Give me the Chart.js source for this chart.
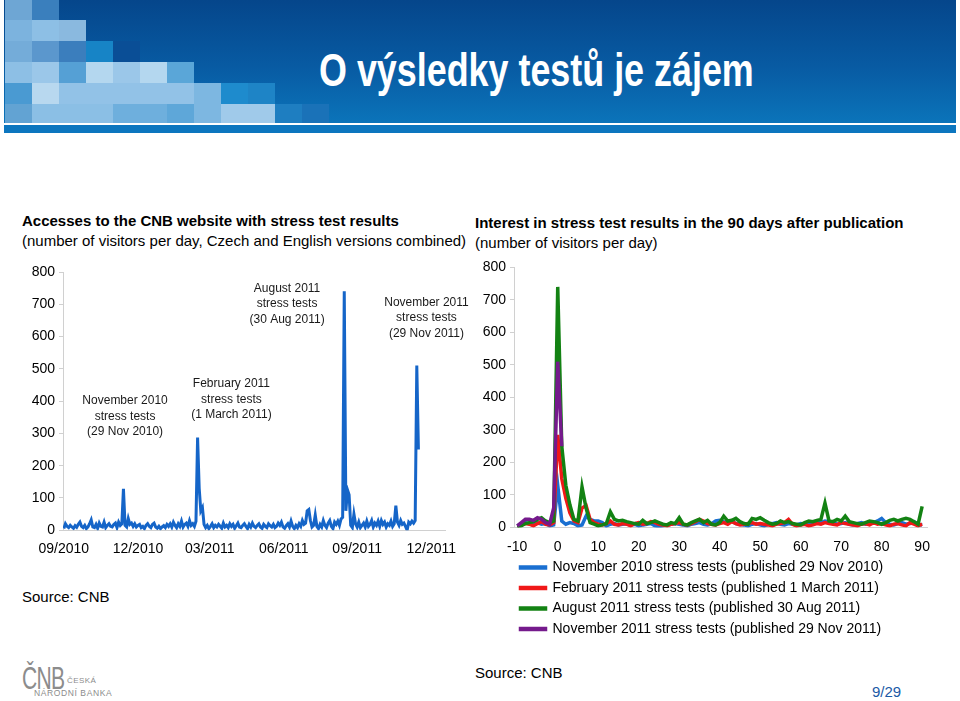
<!DOCTYPE html>
<html>
<head>
<meta charset="utf-8">
<script src="https://cdn.jsdelivr.net/npm/chart.js@4.4.1/dist/chart.umd.min.js"></script>
<style>
  body { margin: 0; width: 960px; height: 701px; position: relative; background: #fff; overflow: hidden;
         font-family: "Liberation Sans", Arial, sans-serif; color: #000; }
  #header { position: absolute; left: 4px; top: 0; width: 952px; height: 123px;
            background: linear-gradient(180deg, #05468b 0%, #085ba3 55%, #0b74ba 100%); }
  #stripe { position: absolute; left: 4px; top: 125px; width: 952px; height: 8px; background: #0c76bf; }
  .tile { position: absolute; width: 27px; }
  #title { position: absolute; left: 319px; top: 43px; color: #fff; white-space: nowrap; line-height: 1;
           font: bold 46px "Liberation Sans", Arial, sans-serif; transform: scaleX(0.78); transform-origin: 0 0; }
  .txt { position: absolute; white-space: nowrap; }
  .bold { font-weight: bold; font-size: 15px; }
  .reg { font-size: 15px; }
  canvas { position: absolute; }
  #logo { position: absolute; left: 22px; top: 660px; color: #8c8c8c; white-space: nowrap; }
  #logo span { position: absolute; white-space: nowrap; line-height: 1; }
</style>
</head>
<body>
<div id="header"></div>
<div id="stripe"></div>
<div id="tiles"></div>
<div id="title">O výsledky testů je zájem</div>

<div class="txt bold" style="left:22px;top:212px">Accesses to the CNB website with stress test results</div>
<div class="txt reg" style="left:22px;top:232px">(number of visitors per day, Czech and English versions combined)</div>
<div class="txt bold" style="left:475px;top:214px">Interest in stress test results in the 90 days after publication</div>
<div class="txt reg" style="left:475px;top:234px">(number of visitors per day)</div>

<canvas id="left" width="470" height="314" style="left:0;top:255px"></canvas>
<canvas id="right" width="490" height="391" style="left:470px;top:255px"></canvas>

<div class="txt reg" style="left:22px;top:588px">Source: CNB</div>
<div class="txt reg" style="left:475px;top:664px">Source: CNB</div>
<div class="txt reg" style="left:872px;top:683px;color:#1a5aa6">9/29</div>

<div id="logo">
  <span style="left:0;top:3px;font-size:31px;transform:scaleX(0.68);transform-origin:0 0;letter-spacing:-1px">ČNB</span>
  <span style="left:45px;top:17px;font-size:8px;letter-spacing:0.4px">ČESKÁ</span>
  <span style="left:12px;top:29px;font-size:8.5px;letter-spacing:0.6px">NÁRODNÍ BANKA</span>
</div>

<script>
// header mosaic colours, one list per row
const tileRows = [
  ['#6ea6d4', '#3a7fbd'],
  ['#7cb3de', '#8dbfe5', '#8ab9df'],
  ['#74acd9', '#5b97cd', '#3b7ebd', '#1784c6', '#0a4e96'],
  ['#8dbfe5', '#9bc7e9', '#55a0d5', '#b4d7ef', '#9bc7e9', '#b4d7ef', '#5aa6d8'],
  ['#4a9ad2', '#b8d8ef', '#92c2e7', '#92c2e7', '#92c2e7', '#92c2e7', '#92c2e7', '#7db7e1', '#1e8bcd', '#1e84c6'],
  ['#62a3d3', '#8bbfe5', '#8bbfe5', '#8bbfe5', '#6eafdd', '#6eafdd', '#5ea7d9', '#7db7e1', '#a0caea', '#a0caea', '#1e7ec1', '#1a72b8']
];
const tileTops = [0, 20, 41, 62, 83, 104];
const tileHeights = [20, 21, 21, 21, 21, 19];
const tilesDiv = document.getElementById('tiles');
tileRows.forEach((row, r) => {
  row.forEach((c, k) => {
    const d = document.createElement('div');
    d.className = 'tile';
    d.style.left = (5 + k * 27) + 'px';
    d.style.top = tileTops[r] + 'px';
    d.style.height = tileHeights[r] + 'px';
    d.style.background = c;
    tilesDiv.appendChild(d);
  });
});

// ---- left chart: daily visitors, one value every 2 days from late Aug 2010 ----
const visitors = [
  5, 20, 12, 8, 15, 10, 6, 14, 9, 18,
  25, 12, 8, 15, 5, 10, 20, 32, 10, 8,
  18, 6, 22, 12, 10, 25, 8, 15, 20, 12,
  10, 18, 22, 8, 25, 15, 20, 128, 15, 10,
  36, 18, 22, 12, 20, 10, 15, 18, 8, 12,
  5, 15, 20, 12, 8, 18, 22, 10, 6, 12,
  5, 10, 14, 8, 18, 12, 20, 10, 25, 15,
  8, 20, 12, 28, 10, 18, 22, 12, 30, 15,
  20, 12, 28, 287, 130, 60, 70, 18, 8, 15,
  5, 12, 20, 8, 15, 10, 18, 12, 6, 22,
  10, 15, 8, 20, 12, 18, 6, 14, 22, 10,
  8, 15, 20, 12, 5, 18, 10, 22, 12, 8,
  15, 20, 10, 6, 18, 12, 8, 20, 14, 10,
  18, 8, 12, 22, 15, 25, 10, 6, 14, 20,
  10, 28, 12, 5, 15, 8, 20, 12, 30, 18,
  22, 60, 64, 30, 10, 15, 47, 12, 5, 18,
  10, 30, 15, 8, 22, 30, 12, 5, 25, 18,
  28, 15, 35, 40, 740, 60, 125, 110, 15, 8,
  50, 20, 10, 25, 8, 15, 22, 10, 28, 12,
  18, 30, 10, 22, 15, 28, 12, 30, 18, 25,
  10, 20, 15, 28, 12, 20, 76, 25, 15, 30,
  18, 22, 12, 0, 25, 20, 28, 22, 30, 510,
  250
];
const leftTickDays = [0, 92, 181, 273, 364, 456];
const leftTickLabels = ['09/2010', '12/2010', '03/2011', '06/2011', '09/2011', '12/2011'];
const yTicks = [0, 100, 200, 300, 400, 500, 600, 700, 800];

const noteLines = [
  ['November 2010', 'stress tests', '(29 Nov 2010)'],
  ['February 2011', 'stress tests', '(1 March 2011)'],
  ['August 2011', 'stress tests', '(30 Aug 2011)'],
  ['November 2011', 'stress tests', '(29 Nov 2011)']
];
const noteDays = [76, 208, 277, 450];
const noteValues = [353, 405, 701, 657];

// ---- right chart: days -10..90 around each publication ----
const relDays = Array.from({ length: 101 }, (_, i) => i - 10);
const nov2010 = [
  5, 10, 15, 12, 8, 15, 10, 12, 5, 8,
  130, 20, 10, 15, 12, 5, 8, 35, 25, 20,
  20, 15, 5, 10, 12, 8, 10, 12, 8, 10,
  5, 8, 10, 12, 5, 3, 5, 8, 10, 12,
  10, 8, 5, 10, 12, 15, 10, 8, 12, 20,
  22, 18, 15, 20, 12, 10, 8, 5, 10, 12,
  8, 5, 10, 12, 15, 10, 8, 12, 10, 8,
  12, 10, 8, 15, 18, 15, 20, 18, 15, 10,
  12, 15, 10, 8, 12, 15, 10, 12, 15, 20,
  28, 15, 10, 8, 12, 15, 10, 12, 18, 10,
  8
];
const feb2011 = [
  5, 8, 12, 10, 5, 12, 18, 10, 8, 15,
  285, 150, 90, 45, 20, 15, 60, 68, 25, 15,
  10, 8, 12, 20, 10, 8, 12, 10, 5, 12,
  15, 10, 12, 18, 15, 10, 8, 5, 10, 12,
  15, 10, 8, 12, 18, 25, 20, 12, 10, 8,
  12, 15, 10, 18, 12, 8, 10, 12, 15, 10,
  12, 10, 8, 5, 10, 12, 15, 25, 10, 5,
  8, 10, 5, 8, 12, 10, 15, 12, 10, 8,
  15, 12, 10, 8, 5, 10, 12, 8, 15, 10,
  12, 8, 5, 10, 12, 8, 5, 15, 10, 5,
  10
];
const aug2011 = [
  2, 5, 12, 15, 18, 25, 30, 20, 15, 20,
  740, 250, 130, 70, 25, 20, 125, 60, 15, 10,
  5, 8, 12, 48, 25, 20, 22, 18, 15, 12,
  10, 22, 12, 15, 20, 15, 10, 8, 15, 12,
  30, 10, 8, 15, 20, 25, 15, 22, 10, 8,
  15, 35, 20, 22, 28, 18, 12, 10, 28, 25,
  30, 22, 15, 10, 12, 20, 15, 18, 12, 10,
  8, 15, 20, 18, 22, 25, 75, 20, 18, 25,
  20, 35, 18, 15, 12, 10, 15, 20, 18, 15,
  10, 15, 22, 25, 20, 25, 28, 25, 18, 10,
  65
];
const nov2011 = [5, 15, 25, 25, 22, 30, 25, 15, 10, 60, 510, 250];
const rightTicks = [-10, 0, 10, 20, 30, 40, 50, 60, 70, 80, 90];

const seriesNames = [
  'November 2010 stress tests (published 29 Nov 2010)',
  'February 2011 stress tests (published 1 March 2011)',
  'August 2011 stress tests (published 30 Aug 2011)',
  'November 2011 stress tests (published 29 Nov 2011)'
];
const seriesColors = ['#1a6fd1', '#f01818', '#138213', '#751a8c'];
const seriesValues = [nov2010, feb2011, aug2011, nov2011];

const FONT = '"Liberation Sans", Arial, sans-serif';
const axisGrey = '#d0d0d0';

const notesPlugin = {
  id: 'notes',
  afterDatasetsDraw(chart) {
    const { ctx, scales: { x, y } } = chart;
    ctx.save();
    ctx.font = '12px ' + FONT;
    ctx.fillStyle = '#1a1a1a';
    ctx.textAlign = 'center';
    ctx.textBaseline = 'middle';
    noteLines.forEach((lines, k) => {
      const cx = x.getPixelForValue(noteDays[k]);
      const cy = y.getPixelForValue(noteValues[k]);
      lines.forEach((t, j) => ctx.fillText(t, cx, cy + (j - 1) * 15.5));
    });
    ctx.restore();
  }
};

new Chart(document.getElementById('left'), {
  type: 'line',
  data: {
    datasets: [{
      data: visitors.map((v, i) => ({ x: i * 2, y: v })),
      borderColor: '#1565c8',
      borderWidth: 3,
      pointRadius: 0,
      tension: 0,
      fill: false
    }]
  },
  options: {
    responsive: false,
    animation: false,
    layout: { padding: { top: 17, right: 25, bottom: 0, left: 0 } },
    plugins: { legend: { display: false }, tooltip: { enabled: false } },
    scales: {
      x: {
        type: 'linear', min: -1, max: 473,
        afterBuildTicks: s => { s.ticks = leftTickDays.map(v => ({ value: v })); },
        ticks: {
          autoSkip: false, maxRotation: 0, padding: 11, color: '#000',
          font: { family: FONT, size: 14 },
          callback: (v, i) => leftTickLabels[i]
        },
        grid: { drawOnChartArea: false, drawTicks: false },
        border: { color: axisGrey }
      },
      y: {
        min: 0, max: 800,
        afterBuildTicks: s => { s.ticks = yTicks.map(v => ({ value: v })); },
        afterFit: s => { s.width = 63; },
        ticks: { padding: 4, color: '#000', font: { family: FONT, size: 14 } },
        grid: { drawOnChartArea: false, tickLength: 4, color: axisGrey },
        border: { color: axisGrey }
      }
    }
  },
  plugins: [notesPlugin]
});

new Chart(document.getElementById('right'), {
  type: 'line',
  data: {
    datasets: seriesValues.map((vals, k) => ({
      label: seriesNames[k],
      data: vals.map((v, i) => ({ x: relDays[i], y: v })),
      borderColor: seriesColors[k],
      backgroundColor: seriesColors[k],
      borderWidth: 3.5,
      pointRadius: 0,
      tension: 0,
      fill: false,
      order: 3 - k
    }))
  },
  options: {
    responsive: false,
    animation: false,
    layout: { padding: { top: 12, right: 33, bottom: 0, left: 0 } },
    plugins: {
      tooltip: { enabled: false },
      legend: {
        position: 'bottom',
        align: 'start',
        fullSize: false,
        labels: {
          boxWidth: 25, boxHeight: 1, padding: 6.5, color: '#000',
          font: { family: FONT, size: 14 },
          sort: (a, b) => a.datasetIndex - b.datasetIndex
        }
      }
    },
    scales: {
      x: {
        type: 'linear', min: -10.8, max: 91.2,
        afterBuildTicks: s => { s.ticks = rightTicks.map(v => ({ value: v })); },
        afterFit: s => { s.height = 26.5; },
        ticks: { autoSkip: false, maxRotation: 0, padding: 11, color: '#000', font: { family: FONT, size: 14 } },
        grid: { drawOnChartArea: false, drawTicks: false },
        border: { color: axisGrey }
      },
      y: {
        min: 0, max: 800,
        afterBuildTicks: s => { s.ticks = yTicks.map(v => ({ value: v })); },
        afterFit: s => { s.width = 44; },
        ticks: { padding: 4, color: '#000', font: { family: FONT, size: 14 } },
        grid: { drawOnChartArea: false, tickLength: 4, color: axisGrey },
        border: { color: axisGrey }
      }
    }
  }
});
</script>
</body>
</html>
